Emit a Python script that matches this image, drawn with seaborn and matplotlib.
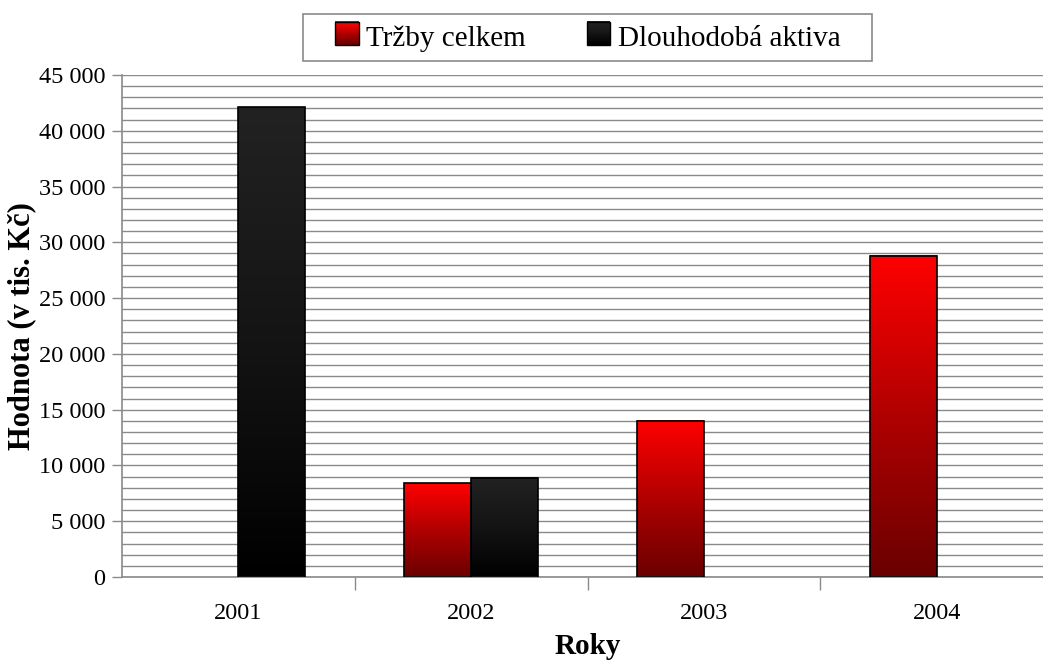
import matplotlib
matplotlib.use("Agg")
import matplotlib.pyplot as plt
import matplotlib.patches as mpatches
from matplotlib.colors import LinearSegmentedColormap
from matplotlib.legend_handler import HandlerBase
from matplotlib.ticker import FuncFormatter, FixedLocator
import numpy as np
import pandas as pd
import seaborn as sns

# ---------------------------------------------------------------------------
# Data (v tis. Kč)
# ---------------------------------------------------------------------------
years = ["2001", "2002", "2003", "2004"]
trzby = [0, 8400, 14000, 28800]
aktiva = [42100, 8900, 0, 0]
series = ["Tržby celkem", "Dlouhodobá aktiva"]

# gradient colours per series (bottom -> top)
grad_colors = {
    "Tržby celkem": ["#6a0000", "#b00000", "#ff0000"],
    "Dlouhodobá aktiva": ["#000000", "#141414", "#222222"],
}
cmaps = {k: LinearSegmentedColormap.from_list(k, v) for k, v in grad_colors.items()}

df = pd.DataFrame({
    "rok": years * 2,
    "hodnota": trzby + aktiva,
    "ukazatel": [series[0]] * 4 + [series[1]] * 4,
})

sns.set_theme(style="white")
plt.rcParams["font.family"] = ["Liberation Serif", "DejaVu Serif"]
plt.rcParams["text.color"] = "black"
plt.rcParams["axes.labelcolor"] = "black"
plt.rcParams["xtick.labelcolor"] = "black"
plt.rcParams["ytick.labelcolor"] = "black"

W, H = 1043, 662
fig = plt.figure(figsize=(W / 100, H / 100), dpi=100)
ax = fig.add_axes([122 / W, 1 - 577 / H, (1053 - 122) / W, (577 - 75) / H])

sns.barplot(
    data=df, x="rok", y="hodnota", hue="ukazatel", hue_order=series,
    palette={series[0]: "#d00000", series[1]: "#111111"},
    width=0.573, dodge=True, edgecolor="black", linewidth=1.2,
    legend=False, ax=ax,
)

# replace flat fills with vertical gradients
grad = np.linspace(0, 1, 256).reshape(-1, 1)
for name, cont in zip(series, ax.containers):
    for bar in cont:
        h = bar.get_height()
        if not h or np.isnan(h):
            bar.set_visible(False)
            continue
        x0, w = bar.get_x(), bar.get_width()
        ax.imshow(grad, extent=[x0, x0 + w, 0, h], origin="lower",
                  aspect="auto", cmap=cmaps[name], zorder=2)
        bar.set_facecolor("none")
        bar.set_zorder(3)

ax.set_xlim(-0.5, 3.5)
ax.set_ylim(0, 45000)

ax.yaxis.set_major_locator(FixedLocator(range(0, 45001, 5000)))
ax.yaxis.set_minor_locator(FixedLocator(range(0, 45001, 1000)))
ax.yaxis.set_major_formatter(FuncFormatter(lambda v, p: f"{int(v):,}".replace(",", " ")))
ax.xaxis.set_minor_locator(FixedLocator([0.5, 1.5, 2.5]))

ax.grid(True, axis="y", which="both", color="#8a8a8a", linewidth=1)
ax.set_axisbelow(True)

ax.tick_params(axis="y", which="major", direction="out", length=7, width=1,
               color="#8a8a8a", labelsize=17.5, pad=5, left=True)
ax.tick_params(axis="y", which="minor", length=0)
ax.tick_params(axis="x", which="major", length=0, labelsize=17.5, pad=19)
ax.tick_params(axis="x", which="minor", direction="out", length=9, width=1,
               color="#8a8a8a", bottom=True)

for side in ["top", "right"]:
    ax.spines[side].set_visible(False)
for side in ["left", "bottom"]:
    ax.spines[side].set_color("#8a8a8a")
    ax.spines[side].set_linewidth(1.2)

ax.set_xlabel("Roky", fontsize=21, fontweight="bold", labelpad=6)
ax.set_ylabel("Hodnota (v tis. Kč)", fontsize=22, fontweight="bold", labelpad=2)


class GradientHandler(HandlerBase):
    def __init__(self, cmap):
        super().__init__()
        self.cmap = cmap

    def create_artists(self, legend, orig, xd, yd, width, height, fontsize, trans):
        size = min(width, height) * 1.05
        x0 = xd + width - size
        y0 = yd + (height - size) / 2
        n = 12
        arts = []
        for i in range(n):
            r = mpatches.Rectangle((x0, y0 + size * i / n), size, size / n + 0.3,
                                   facecolor=self.cmap(i / (n - 1)), edgecolor="none",
                                   transform=trans)
            arts.append(r)
        arts.append(mpatches.Rectangle((x0, y0), size, size, facecolor="none",
                                       edgecolor="black", linewidth=1, transform=trans))
        return arts


handles = [mpatches.Patch(label=s) for s in series]
leg = fig.legend(
    handles=handles, labels=series, loc="center",
    bbox_to_anchor=(588 / W, 1 - 38 / H), ncol=2, frameon=False,
    fontsize=21, handlelength=0.8, handleheight=0.8, handletextpad=0.25,
    columnspacing=2.1, borderpad=0.2,
    handler_map={handles[0]: GradientHandler(cmaps[series[0]]),
                 handles[1]: GradientHandler(cmaps[series[1]])},
)

# legend box drawn separately (wider padding than the legend frame allows)
fig.patches.append(mpatches.Rectangle(
    (303 / W, 1 - 61 / H), (872 - 303) / W, 47 / H, transform=fig.transFigure,
    facecolor="white", edgecolor="#8a8a8a", linewidth=1.2, zorder=0))

fig.savefig("out.png", dpi=100, facecolor="white")
